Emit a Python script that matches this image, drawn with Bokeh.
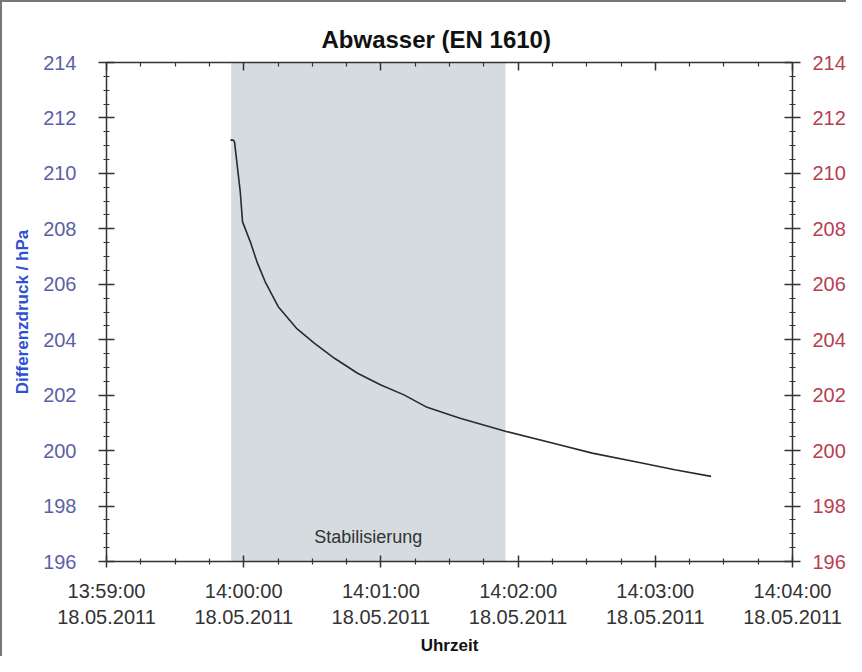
import pandas as pd
from bokeh.plotting import figure
from bokeh.models import (Range1d, LinearAxis, DatetimeAxis, FixedTicker, DatetimeTickFormatter,
                          BoxAnnotation, Label)
from bokeh.embed import file_html
from bokeh.resources import INLINE

# ---- data ----
date_str = "2011-05-18"
times = ["13:59:54.2", "13:59:55.5", "13:59:56.0", "13:59:58.5", "13:59:59.5", "14:00:02.9",
         "14:00:05.8", "14:00:09.4", "14:00:15.1", "14:00:23.1", "14:00:31.0", "14:00:39.7",
         "14:00:49.8", "14:01:00.0", "14:01:10.1", "14:01:20.2", "14:01:34.6", "14:01:54.8",
         "14:02:18.0", "14:02:32.4", "14:02:54.1", "14:03:08.5", "14:03:24.4"]
pressure = [211.20, 211.20, 211.13, 209.33, 208.25, 207.53,
            206.81, 206.09, 205.19, 204.41, 203.87, 203.33,
            202.79, 202.37, 202.01, 201.56, 201.17, 200.69,
            200.21, 199.91, 199.55, 199.31, 199.07]
phase_label = "Stabilisierung"
phase_start = "13:59:54.5"
phase_end = "14:01:54.5"
x_start = "13:59:00"
x_end = "14:04:00"
y_ticks = [196, 198, 200, 202, 204, 206, 208, 210, 212, 214]
x_major_ticks = ["13:59:00", "14:00:00", "14:01:00", "14:02:00", "14:03:00", "14:04:00"]

EPOCH = pd.Timestamp("1970-01-01")


def ms(t):
    return (pd.Timestamp(f"{date_str} {t}") - EPOCH).total_seconds() * 1000.0


xs = [ms(t) for t in times]
x_major = [ms(t) for t in x_major_ticks]
x_minor = []
for a, b in zip(x_major[:-1], x_major[1:]):
    step = (b - a) / 4
    x_minor += [a + step * k for k in range(1, 4)]
y_minor = [y_ticks[0] + 0.5 * k for k in range(int((y_ticks[-1] - y_ticks[0]) / 0.5) + 1)]

FONT = "Liberation Sans"
AX = "#333333"

p = figure(width=846, height=656, output_backend="svg", toolbar_location=None,
           x_axis_type=None, y_axis_location=None,
           x_range=Range1d(ms(x_start), ms(x_end)), y_range=Range1d(y_ticks[0], y_ticks[-1]),
           min_border_left=104, min_border_right=53, min_border_top=60, min_border_bottom=97)
p.styles = {"border-left": "2px solid #777777", "border-top": "2px solid #777777",
            "box-sizing": "border-box"}
p.grid.visible = False
p.outline_line_color = None
p.background_fill_color = "white"
p.border_fill_color = "white"

p.title.text = "Abwasser (EN 1610)"
p.title.text_font = FONT
p.title.text_font_size = "24px"
p.title.text_font_style = "bold"
p.title.text_color = "#111111"
p.title.align = "left"
p.title.offset = 215
p.title.standoff = 20

fmt_str = "%H:%M:%S\n%d.%m.%Y"
fmt = DatetimeTickFormatter(microseconds=fmt_str, milliseconds=fmt_str, seconds=fmt_str,
                            minsec=fmt_str, minutes=fmt_str, hourmin=fmt_str, hours=fmt_str,
                            days=fmt_str, months=fmt_str, years=fmt_str)


def style_axis(ax):
    ax.axis_line_color = AX
    ax.axis_line_width = 1.5
    ax.major_tick_line_color = AX
    ax.minor_tick_line_color = AX
    ax.major_tick_line_width = 1.5
    ax.minor_tick_line_width = 1.2
    ax.major_label_text_font = FONT


xb = DatetimeAxis(ticker=FixedTicker(ticks=x_major, minor_ticks=x_minor), formatter=fmt)
style_axis(xb)
xb.major_tick_in = 6
xb.major_tick_out = 6
xb.minor_tick_in = 3
xb.minor_tick_out = 3
xb.major_label_text_font_size = "20px"
xb.major_label_text_color = "#333333"
xb.major_label_standoff = 12
xb.axis_label = "Uhrzeit"
xb.axis_label_text_font = FONT
xb.axis_label_text_font_size = "17px"
xb.axis_label_text_font_style = "bold"
xb.axis_label_text_color = "#111111"
xb.axis_label_standoff = 5
p.add_layout(xb, "below")

xt = DatetimeAxis(ticker=FixedTicker(ticks=x_major, minor_ticks=x_minor), formatter=fmt)
style_axis(xt)
xt.major_tick_in = 8
xt.major_tick_out = 0
xt.minor_tick_in = 4
xt.minor_tick_out = 0
xt.major_label_text_font_size = "1px"
xt.major_label_text_color = None
xt.major_label_standoff = 0
p.add_layout(xt, "above")

yl = LinearAxis(ticker=FixedTicker(ticks=y_ticks, minor_ticks=y_minor))
style_axis(yl)
yl.major_tick_in = 8
yl.major_tick_out = 8
yl.minor_tick_in = 3
yl.minor_tick_out = 3
yl.major_label_text_font_size = "20px"
yl.major_label_text_color = "#5c5fa8"
yl.major_label_standoff = 22
yl.axis_label = "Differenzdruck / hPa"
yl.axis_label_text_font = FONT
yl.axis_label_text_font_size = "17px"
yl.axis_label_text_font_style = "bold"
yl.axis_label_text_color = "#2f4fd6"
yl.axis_label_standoff = 8
p.add_layout(yl, "left")

yr = LinearAxis(ticker=FixedTicker(ticks=y_ticks, minor_ticks=y_minor))
style_axis(yr)
yr.major_tick_in = 8
yr.major_tick_out = 8
yr.minor_tick_in = 3
yr.minor_tick_out = 3
yr.major_label_text_font_size = "20px"
yr.major_label_text_color = "#b8414f"
yr.major_label_standoff = 12
p.add_layout(yr, "right")

box = BoxAnnotation(left=ms(phase_start), right=ms(phase_end), fill_color="#d5dce0",
                    fill_alpha=1.0, line_color=None, level="underlay")
p.add_layout(box)

p.line(xs, pressure, line_color="#2a2a2a", line_width=1.6)

p.add_layout(Label(x=(ms(phase_start) + ms(phase_end)) / 2, y=196.87, text=phase_label,
                   text_font=FONT, text_font_size="18px", text_color="#333333",
                   text_align="center", text_baseline="middle"))

open("out.html", "w").write(file_html(p, INLINE))
